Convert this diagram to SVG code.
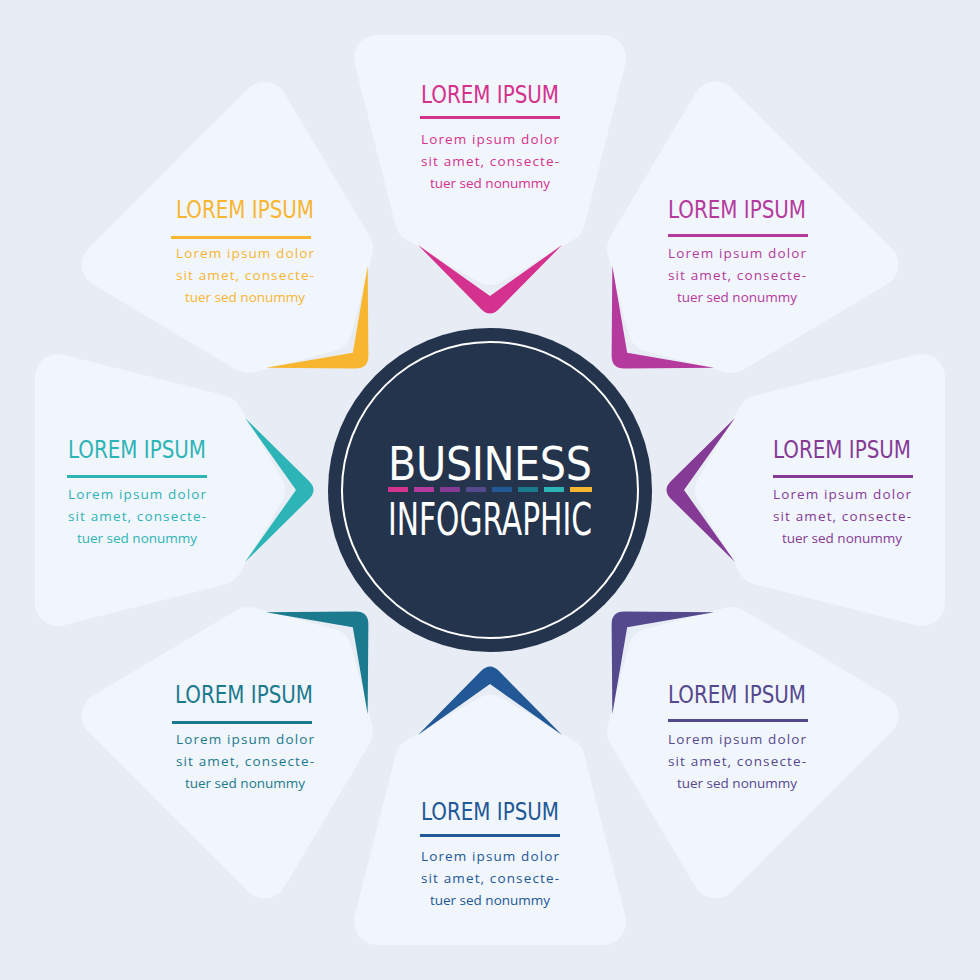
<svg xmlns="http://www.w3.org/2000/svg" width="980" height="980" viewBox="0 0 980 980">
<defs>
<style>
.pan{fill:#f1f5fc;stroke:#f1f5fc;stroke-width:46;stroke-linejoin:round}
.t{font-family:"DejaVu Sans Condensed","Liberation Sans",sans-serif;font-size:24px;text-anchor:middle}
.b{font-family:"Open Sans","Lato",sans-serif;font-size:13.5px;text-anchor:middle}
.c{font-family:"DejaVu Sans Condensed","Liberation Sans",sans-serif;fill:#fff;text-anchor:middle}
</style>
<polygon id="p" class="pan" points="377,58 603,58 562,220 490,262 418,220"/>
<path id="v" d="M418,245 L481,309 Q490,318 499,309 L562,245 L490,296 Z"/>
</defs>
<rect width="980" height="980" fill="#e8edf5"/>
<g id="panels">
<use href="#p"/>
<use href="#p" transform="rotate(45 490 490)"/>
<use href="#p" transform="rotate(90 490 490)"/>
<use href="#p" transform="rotate(135 490 490)"/>
<use href="#p" transform="rotate(180 490 490)"/>
<use href="#p" transform="rotate(225 490 490)"/>
<use href="#p" transform="rotate(270 490 490)"/>
<use href="#p" transform="rotate(315 490 490)"/>
</g>
<g id="connectors">
<use href="#v" fill="#d4328e"/>
<use href="#v" fill="#b43a9d" transform="rotate(45 490 490)"/>
<use href="#v" fill="#853b96" transform="rotate(90 490 490)"/>
<use href="#v" fill="#55498e" transform="rotate(135 490 490)"/>
<use href="#v" fill="#225896" transform="rotate(180 490 490)"/>
<use href="#v" fill="#1b7a8e" transform="rotate(225 490 490)"/>
<use href="#v" fill="#2db4b6" transform="rotate(270 490 490)"/>
<use href="#v" fill="#f8b630" transform="rotate(315 490 490)"/>
</g>
<g id="center">
<circle cx="490" cy="490" r="162" fill="#25344d"/>
<circle cx="490" cy="490" r="148" fill="none" stroke="#fff" stroke-width="2"/>
<text class="c" x="490" y="480" font-size="46" textLength="204">BUSINESS</text>
<g>
<rect x="388" y="487" width="20" height="5" fill="#d4328e"/>
<rect x="414" y="487" width="20" height="5" fill="#b43a9d"/>
<rect x="440" y="487" width="20" height="5" fill="#853b96"/>
<rect x="466" y="487" width="20" height="5" fill="#55498e"/>
<rect x="492" y="487" width="20" height="5" fill="#225896"/>
<rect x="518" y="487" width="20" height="5" fill="#1b7a8e"/>
<rect x="544" y="487" width="20" height="5" fill="#2db4b6"/>
<rect x="570" y="487" width="22" height="5" fill="#f8b630"/>
</g>
<text class="c" x="490" y="535" font-size="44" textLength="204" lengthAdjust="spacingAndGlyphs">INFOGRAPHIC</text>
</g>
<g id="n1" fill="#d4328e">
<text class="t" x="490" y="103" textLength="138" lengthAdjust="spacingAndGlyphs">LOREM IPSUM</text>
<rect x="420" y="116" width="140" height="3"/>
<text class="b" x="490" y="144" textLength="138">Lorem ipsum dolor</text>
<text class="b" x="490" y="166" textLength="138">sit amet, consecte-</text>
<text class="b" x="490" y="188">tuer sed nonummy</text>
</g>
<g id="n2" fill="#b43a9d">
<text class="t" x="737" y="218" textLength="138" lengthAdjust="spacingAndGlyphs">LOREM IPSUM</text>
<rect x="668" y="234" width="140" height="3"/>
<text class="b" x="737" y="258" textLength="138">Lorem ipsum dolor</text>
<text class="b" x="737" y="280" textLength="138">sit amet, consecte-</text>
<text class="b" x="737" y="302">tuer sed nonummy</text>
</g>
<g id="n3" fill="#853b96">
<text class="t" x="842" y="458" textLength="138" lengthAdjust="spacingAndGlyphs">LOREM IPSUM</text>
<rect x="773" y="475" width="140" height="3"/>
<text class="b" x="842" y="499" textLength="138">Lorem ipsum dolor</text>
<text class="b" x="842" y="521" textLength="138">sit amet, consecte-</text>
<text class="b" x="842" y="543">tuer sed nonummy</text>
</g>
<g id="n4" fill="#55498e">
<text class="t" x="737" y="703" textLength="138" lengthAdjust="spacingAndGlyphs">LOREM IPSUM</text>
<rect x="668" y="719" width="140" height="3"/>
<text class="b" x="737" y="744" textLength="138">Lorem ipsum dolor</text>
<text class="b" x="737" y="766" textLength="138">sit amet, consecte-</text>
<text class="b" x="737" y="788">tuer sed nonummy</text>
</g>
<g id="n5" fill="#225896">
<text class="t" x="490" y="820" textLength="138" lengthAdjust="spacingAndGlyphs">LOREM IPSUM</text>
<rect x="420" y="834" width="140" height="3"/>
<text class="b" x="490" y="861" textLength="138">Lorem ipsum dolor</text>
<text class="b" x="490" y="883" textLength="138">sit amet, consecte-</text>
<text class="b" x="490" y="905">tuer sed nonummy</text>
</g>
<g id="n6" fill="#1b7a8e">
<text class="t" x="244" y="703" textLength="138" lengthAdjust="spacingAndGlyphs">LOREM IPSUM</text>
<rect x="172" y="721" width="140" height="3"/>
<text class="b" x="245" y="744" textLength="138">Lorem ipsum dolor</text>
<text class="b" x="245" y="766" textLength="138">sit amet, consecte-</text>
<text class="b" x="245" y="788">tuer sed nonummy</text>
</g>
<g id="n7" fill="#2db4b6">
<text class="t" x="137" y="458" textLength="138" lengthAdjust="spacingAndGlyphs">LOREM IPSUM</text>
<rect x="67" y="475" width="140" height="3"/>
<text class="b" x="137" y="499" textLength="138">Lorem ipsum dolor</text>
<text class="b" x="137" y="521" textLength="138">sit amet, consecte-</text>
<text class="b" x="137" y="543">tuer sed nonummy</text>
</g>
<g id="n8" fill="#f8b630">
<text class="t" x="245" y="218" textLength="138" lengthAdjust="spacingAndGlyphs">LOREM IPSUM</text>
<rect x="171" y="236" width="140" height="3"/>
<text class="b" x="245" y="258" textLength="138">Lorem ipsum dolor</text>
<text class="b" x="245" y="280" textLength="138">sit amet, consecte-</text>
<text class="b" x="245" y="302">tuer sed nonummy</text>
</g>
</svg>
